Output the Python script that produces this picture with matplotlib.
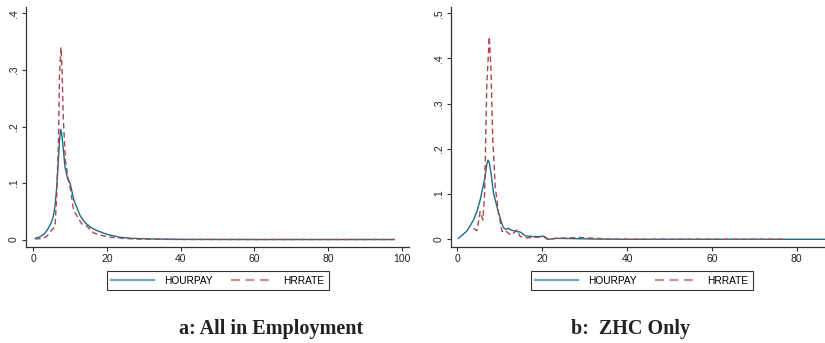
import numpy as np
import matplotlib
matplotlib.use("Agg")
import matplotlib.pyplot as plt

# ---- data (kernel density estimates) ----
# panel a: all in employment
a_hourpay_x = [0.5, 1.8, 3.0, 3.8, 4.6, 5.4, 5.9, 6.35, 6.8, 7.1, 7.4, 7.7, 8.1, 8.6,
               9.3, 10.0, 11.0, 12.0, 12.7, 14.0, 15.5, 17.2, 20.0, 23.5, 27.0, 32.0,
               40.0, 60.0, 80.0, 98.0]
a_hourpay_y = [0.002, 0.005, 0.010, 0.017, 0.026, 0.040, 0.060, 0.093, 0.140, 0.175,
               0.195, 0.187, 0.162, 0.128, 0.108, 0.099, 0.070, 0.054, 0.042, 0.030,
               0.022, 0.016, 0.009, 0.004, 0.002, 0.001, 0.0003, 0.0, 0.0, 0.0]
a_hrrate_x = [0.5, 2.7, 4.0, 5.0, 5.9, 6.35, 6.8, 7.1, 7.5, 7.8, 8.1, 8.7, 9.5, 10.2,
              10.9, 12.0, 13.1, 14.5, 16.3, 18.0, 20.0, 22.6, 27.0, 32.0, 40.0, 60.0,
              80.0, 98.0]
a_hrrate_y = [0.001, 0.002, 0.008, 0.017, 0.023, 0.080, 0.170, 0.290, 0.340, 0.300,
              0.220, 0.140, 0.105, 0.085, 0.052, 0.040, 0.028, 0.024, 0.012, 0.008,
              0.005, 0.003, 0.001, 0.0005, 0.0, 0.0, 0.0, 0.0]

# panel b: ZHC only
b_hourpay_x = [0.2, 1.2, 2.2, 3.0, 3.8, 4.6, 5.35, 6.0, 6.5, 6.9, 7.2, 7.5, 8.0, 8.5,
               9.1, 9.7, 10.3, 10.8, 11.4, 12.0, 12.8, 14.0, 14.8, 15.4, 16.0, 18.0,
               19.5, 20.3, 21.5, 23.5, 27.0, 32.0, 40.0, 60.0, 80.0, 90.0]
b_hourpay_y = [0.002, 0.010, 0.018, 0.030, 0.043, 0.062, 0.087, 0.115, 0.138, 0.165,
               0.175, 0.170, 0.140, 0.102, 0.080, 0.058, 0.040, 0.026, 0.022, 0.024,
               0.020, 0.017, 0.016, 0.012, 0.0075, 0.006, 0.006, 0.007, 0.0, 0.002,
               0.0015, 0.0005, 0.0, 0.0, 0.0, 0.0]
b_hrrate_x = [3.8, 4.6, 5.35, 6.0, 6.4, 6.9, 7.5, 7.9, 8.3, 8.9, 9.7, 10.5, 11.3, 12.0,
              12.8, 14.0, 14.8, 16.0, 18.0, 19.5, 20.3, 21.2, 23.0, 26.0, 29.0, 30.5,
              33.0, 36.0, 50.0, 65.0, 77.0]
b_hrrate_y = [0.024, 0.019, 0.061, 0.043, 0.100, 0.338, 0.448, 0.375, 0.227, 0.116,
              0.058, 0.017, 0.020, 0.013, 0.0095, 0.0206, 0.006, 0.003, 0.004, 0.005,
              0.006, 0.0, 0.002, 0.003, 0.004, 0.003, 0.002, 0.0, 0.0, 0.0, 0.0]

a_yticks = [0, 0.1, 0.2, 0.3, 0.4]
b_yticks = [0, 0.1, 0.2, 0.3, 0.4, 0.5]
ytick_labels = ['0', '.1', '.2', '.3', '.4', '.5']
a_xticks = [0, 20, 40, 60, 80, 100]
b_xticks = [0, 20, 40, 60, 80]
series_names = ['HOURPAY', 'HRRATE']
captions = ['a: All in Employment', 'b:  ZHC Only']

BLUE = '#1d6a8c'
RED = '#a8484b'
AXCOL = '#333333'

plt.rcParams['font.family'] = ['Liberation Sans', 'DejaVu Sans']

fig = plt.figure(figsize=(8.25, 3.43), dpi=100)
ax_a = fig.add_axes([0.0315, 0.2808, 0.4642, 0.6988])
ax_b = fig.add_axes([0.5463, 0.2808, 0.4537, 0.6997])


def style_axis(ax, xlim, ylim, xticks, yticks):
    ax.set_xlim(*xlim)
    ax.set_ylim(*ylim)
    for side in ['top', 'right']:
        ax.spines[side].set_visible(False)
    for side in ['left', 'bottom']:
        ax.spines[side].set_color(AXCOL)
        ax.spines[side].set_linewidth(0.9)
    ax.set_xticks(xticks)
    ax.set_xticklabels([str(t) for t in xticks])
    ax.set_yticks(yticks)
    ax.set_yticklabels(ytick_labels[:len(yticks)], rotation=90, va='center')
    ax.tick_params(direction='out', length=3, width=0.8, color=AXCOL,
                   labelsize=7.5, labelcolor='#222222', pad=2)


def draw(ax, hx, hy, rx, ry):
    l1, = ax.plot(hx, hy, color=BLUE, lw=1.0, label=series_names[0])
    l2, = ax.plot(rx, ry, color=RED, lw=1.0, linestyle=(0, (4, 2.5)),
                  label=series_names[1])
    return l1, l2


draw(ax_a, a_hourpay_x, a_hourpay_y, a_hrrate_x, a_hrrate_y)
draw(ax_b, b_hourpay_x, b_hourpay_y, b_hrrate_x, b_hrrate_y)
style_axis(ax_a, (-2.0, 102.0), (-0.0127, 0.4115), a_xticks, a_yticks)
style_axis(ax_b, (-1.6, 86.7), (-0.0164, 0.5146), b_xticks, b_yticks)

for ax, cx in [(ax_a, 0.264), (ax_b, 0.778)]:
    h, lab = ax.get_legend_handles_labels()
    leg = ax.legend(h, lab, loc='center', bbox_to_anchor=(cx, 0.182),
                    bbox_transform=fig.transFigure, ncol=2, fontsize=7.3,
                    frameon=True, fancybox=False, handlelength=4.2,
                    columnspacing=1.8, handletextpad=1.0, borderpad=0.45)
    leg.get_frame().set_edgecolor('black')
    leg.get_frame().set_linewidth(0.8)
    for ln in leg.get_lines():
        ln.set_linewidth(1.6)
        ln.set_alpha(0.6)

fig.text(0.329, 0.025, captions[0], ha='center', va='baseline',
         fontsize=14.5, fontweight='bold', family='Liberation Serif', color='#222222')
fig.text(0.764, 0.025, captions[1], ha='center', va='baseline',
         fontsize=14.5, fontweight='bold', family='Liberation Serif', color='#222222')

fig.savefig('out.png', dpi=100)
